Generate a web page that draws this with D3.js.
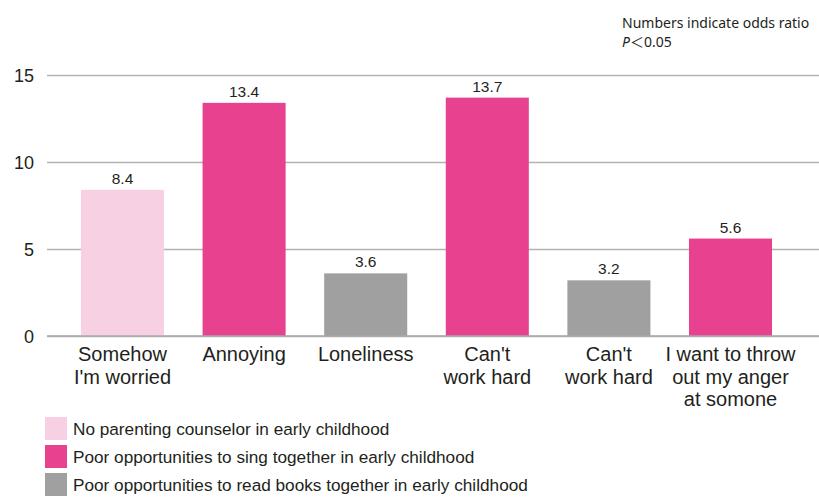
<!DOCTYPE html>
<html>
<head>
<meta charset="utf-8">
<script src="https://cdn.jsdelivr.net/npm/d3@7"></script>
<style>
  html, body { margin: 0; padding: 0; background: #ffffff; }
  svg { display: block; }
</style>
</head>
<body>
<svg id="chart" width="819" height="499"></svg>
<script>
// Odds ratios per outcome, coloured by the early-childhood factor behind them
const categories = [
  ["Somehow", "I'm worried"],
  ["Annoying"],
  ["Loneliness"],
  ["Can't", "work hard"],
  ["Can't", "work hard"],
  ["I want to throw", "out my anger", "at somone"]
];
const oddsRatios = [8.4, 13.4, 3.6, 13.7, 3.2, 5.6];
const factorOfBar = [0, 1, 2, 1, 2, 1];
const factors = [
  "No parenting counselor in early childhood",
  "Poor opportunities to sing together in early childhood",
  "Poor opportunities to read books together in early childhood"
];
const factorColors = ["#f7d0e3", "#e84190", "#a0a0a0"];
const yTicks = [0, 5, 10, 15];
const noteLines = ["Numbers indicate odds ratio", "P＜0.05"];

const svg = d3.select("#chart");
const textColor = "#231f20";
const font = "'Liberation Sans', Arial, Helvetica, sans-serif";

const y = d3.scaleLinear().domain([0, 15]).range([336, 75]);
const x = d3.scaleBand()
  .domain(d3.range(oddsRatios.length))
  .range([61.7, 791.3])
  .paddingInner(0.317)
  .paddingOuter(0.1585);

// Horizontal gridlines with tick labels
const yAxis = d3.axisLeft(y)
  .tickValues(yTicks)
  .tickSize(-(819 - 47))
  .tickPadding(13)
  .tickFormat(d3.format("d"));

const gAxis = svg.append("g")
  .attr("transform", "translate(47,0)")
  .call(yAxis);
gAxis.select(".domain").remove();
gAxis.selectAll(".tick line")
  .attr("stroke", "#b2b2b2")
  .attr("stroke-width", 1.6);
gAxis.selectAll(".tick text")
  .attr("fill", textColor)
  .attr("font-family", font)
  .attr("font-size", 18)
  .attr("dy", "0.34em");

// Bars
svg.append("g").selectAll("rect")
  .data(oddsRatios)
  .join("rect")
  .attr("x", (d, i) => x(i))
  .attr("width", x.bandwidth())
  .attr("y", d => y(d))
  .attr("height", d => y(0) - y(d))
  .attr("fill", (d, i) => factorColors[factorOfBar[i]]);

// Baseline drawn over the bars
svg.append("line")
  .attr("x1", 47).attr("x2", 819)
  .attr("y1", y(0)).attr("y2", y(0))
  .attr("stroke", "#a8a8a8")
  .attr("stroke-width", 1.6);

// Value labels
svg.append("g").selectAll("text")
  .data(oddsRatios)
  .join("text")
  .attr("x", (d, i) => x(i) + x.bandwidth() / 2)
  .attr("y", d => y(d) - 6)
  .attr("text-anchor", "middle")
  .attr("fill", textColor)
  .attr("font-family", font)
  .attr("font-size", 15.5)
  .text(d => d.toFixed(1));

// Category labels (multi-line)
const cat = svg.append("g").selectAll("text")
  .data(categories)
  .join("text")
  .attr("x", (d, i) => x(i) + x.bandwidth() / 2)
  .attr("y", 361)
  .attr("text-anchor", "middle")
  .attr("fill", textColor)
  .attr("font-family", font)
  .attr("font-size", 20);
cat.selectAll("tspan")
  .data(d => d)
  .join("tspan")
  .attr("x", function () { return d3.select(this.parentNode).attr("x"); })
  .attr("dy", (d, j) => j === 0 ? 0 : 22.6)
  .text(d => d);

// Legend
const legend = svg.append("g").selectAll("g")
  .data(factors)
  .join("g")
  .attr("transform", (d, i) => `translate(45,${417 + i * 28})`);
legend.append("rect")
  .attr("width", 22)
  .attr("height", 23)
  .attr("fill", (d, i) => factorColors[i]);
legend.append("text")
  .attr("x", 28)
  .attr("y", 17.5)
  .attr("fill", textColor)
  .attr("font-family", font)
  .attr("font-size", 17.2)
  .text(d => d);

// Note in the top-right corner
const note = svg.append("text")
  .attr("x", 622)
  .attr("y", 27.5)
  .attr("fill", textColor)
  .attr("font-family", "'Noto Sans', 'Noto Sans CJK JP', sans-serif")
  .attr("font-size", 14);
note.append("tspan").attr("x", 622).text(noteLines[0]);
const line2 = note.append("tspan").attr("x", 622).attr("dy", 19);
line2.append("tspan").attr("font-style", "italic").text(noteLines[1].slice(0, 1));
line2.append("tspan").text(noteLines[1].slice(1));
</script>
</body>
</html>
